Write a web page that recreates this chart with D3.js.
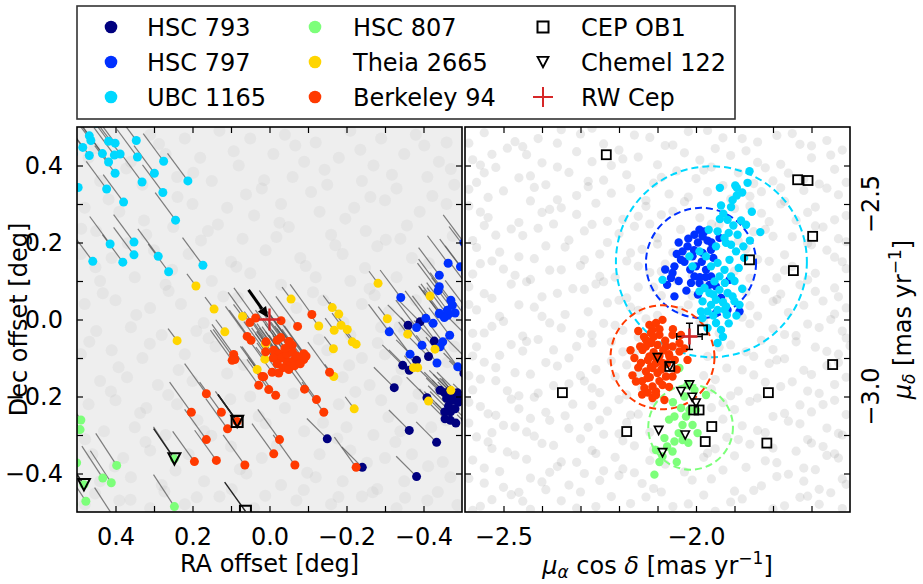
<!DOCTYPE html>
<html>
<head>
<meta charset="utf-8">
<script src="https://cdn.jsdelivr.net/npm/d3@7"></script>
<style>
  body { margin: 0; background: #fff; }
  svg { display: block; font-family: "DejaVu Sans", sans-serif; }
</style>
</head>
<body>
<div id="graph"></div>
<script>
// ---- data ----
const cluster_names = ["HSC 793", "HSC 797", "UBC 1165", "HSC 807", "Theia 2665", "Berkeley 94"];
const cluster_colors = ["#00007f", "#0030ff", "#00d8ff", "#7dff7a", "#ffd500", "#ff3a00"];
// mean proper motion (mas/yr) used for the sky tracks
const cluster_pm = [[-1.96, -1.96], [-1.99, -2.65], [-1.96, -2.65], [-2.01, -3.08], [-0.87, -1.16], [-2.09, -2.90]];

// sky positions [RA offset, Dec offset] in deg
const hsc793_sky = [[-0.360,-0.015],[-0.391,-0.006],[-0.428,-0.056],[-0.413,-0.096],[-0.346,-0.119],[-0.363,-0.132],
  [-0.382,-0.106],[-0.324,-0.177],[-0.443,-0.184],[-0.409,-0.203],[-0.455,-0.190],[-0.468,-0.185],[-0.478,-0.195],
  [-0.488,-0.190],[-0.460,-0.205],[-0.475,-0.210],[-0.490,-0.215],[-0.465,-0.225],[-0.482,-0.232],[-0.495,-0.205],
  [-0.470,-0.240],[-0.455,-0.240],[-0.470,-0.262],[-0.484,-0.269],[-0.456,-0.258],[-0.363,-0.288],[-0.434,-0.319],
  [-0.382,-0.408],[-0.150,-0.310],[-0.241,-0.384],[-0.51,-0.10],[-0.52,-0.16],[-0.53,-0.22],[-0.51,-0.26],
  [-0.54,-0.30],[-0.52,-0.05],[-0.505,-0.14]];
const hsc797_sky = [[-0.311,-0.032],[-0.382,-0.021],[-0.406,0.003],[-0.425,-0.010],[-0.443,0.014],[-0.463,0.011],
  [-0.482,0.017],[-0.468,-0.041],[-0.450,-0.058],[-0.443,-0.071],[-0.396,-0.067],[-0.365,-0.090],[-0.435,-0.113],
  [-0.489,-0.123],[-0.464,0.146],[-0.496,0.137],[-0.441,0.115],[-0.441,0.085],[-0.438,0.075],[-0.341,0.057],
  [-0.471,0.050],[-0.475,0.037],[-0.462,0.024],[-0.441,0.016],[-0.454,0.005],[-0.51,0.12],[-0.52,0.08],
  [-0.51,0.03],[-0.53,-0.02],[-0.52,0.17],[-0.505,0.20]];
const ubc1165_sky = [[0.468,0.477],[0.464,0.465],[0.485,0.447],[0.418,0.463],[0.401,0.458],[0.346,0.465],
  [0.468,0.426],[0.434,0.431],[0.403,0.427],[0.388,0.430],[0.418,0.409],[0.343,0.422],[0.275,0.411],[0.401,0.380],
  [0.299,0.380],[0.331,0.357],[0.212,0.360],[0.497,0.343],[0.423,0.339],[0.277,0.330],[0.379,0.305],[0.244,0.258],
  [0.352,0.201],[0.414,0.196],[0.352,0.168],[0.289,0.164],[0.459,0.151],[0.381,0.149],[0.173,0.141],[0.262,0.124],
  [0.52,0.50],[0.48,0.52],[0.45,0.51],[0.42,0.54],[0.38,0.52],[0.51,0.43],[0.53,0.38],[0.52,0.30]];
const hsc807_sky = [[0.490,-0.261],[0.492,-0.286],[0.397,-0.379],[0.433,-0.412],[0.411,-0.424],[0.501,-0.372],
  [0.477,-0.472],[0.247,-0.486],[0.247,-0.362],[0.482,-0.429],[0.52,-0.33],[0.53,-0.40],[0.51,-0.48],[0.40,-0.52]];
const theia2665_sky = [[0.191,0.087],[0.144,0.027],[0.070,0.008],[0.116,-0.032],[0.009,-0.061],[0.012,-0.103],
  [0.032,-0.130],[-0.056,0.053],[-0.128,-0.017],[-0.163,0.031],[-0.168,-0.028],[-0.166,-0.076],[-0.091,-0.095],
  [-0.186,-0.015],[-0.202,-0.026],[-0.215,-0.058],[-0.225,-0.064],[0.010,-0.063],[-0.167,-0.148],[-0.220,-0.232],
  [-0.306,0.002],[-0.359,-0.038],[-0.430,-0.077],[-0.374,-0.125],[-0.385,-0.125],[-0.471,-0.184],[-0.413,-0.212],
  [-0.180,0.014],[-0.282,0.094],[-0.417,0.061],[0.240,-0.055]];
const berkeley94_sky = [[0.036,0.004],[0.051,-0.008],[-0.030,-0.003],[-0.073,-0.018],[-0.110,0.013],[0.058,-0.044],
  [0.048,-0.054],[-0.020,-0.054],[-0.029,-0.047],[-0.050,-0.057],[-0.059,-0.067],[0.093,-0.091],[0.090,-0.104],
  [0.097,-0.106],[0.010,-0.084],[-0.011,-0.080],[-0.024,-0.089],[-0.037,-0.097],[-0.046,-0.110],[-0.055,-0.119],
  [-0.063,-0.106],[-0.076,-0.102],[-0.089,-0.089],[-0.089,-0.104],[-0.007,-0.137],[0.015,-0.149],[0.028,-0.171],
  [0.002,-0.182],[-0.016,-0.197],[-0.091,-0.181],[-0.122,-0.208],[-0.156,-0.137],[-0.141,-0.241],[-0.026,-0.312],
  [-0.011,-0.349],[-0.066,-0.378],[-0.225,-0.384],[-0.052,-0.058],[0.009,-0.058],[0.019,-0.148],[-0.024,-0.139],
  [-0.030,-0.100],[-0.045,-0.090],[-0.060,-0.085],[-0.070,-0.095],[-0.020,-0.115],[-0.035,-0.125],[-0.050,-0.130],
  [-0.065,-0.120],[-0.080,-0.115],[-0.040,-0.075],[-0.010,-0.100],[-0.095,-0.095],[0.164,-0.193],[0.125,-0.241],
  [0.203,-0.241],[0.109,-0.284],[0.164,-0.312],[0.138,-0.366],[0.195,-0.369],[0.064,-0.378],[0.084,-0.265]];
const sky_members = [hsc793_sky, hsc797_sky, ubc1165_sky, hsc807_sky, theia2665_sky, berkeley94_sky];

// [RA offset, Dec offset, pmRA, pmDec]
const cep_ob1_sky = [[0.084,-0.265,-1.85,-2.60],[0.0625,-0.498,-2.00,-2.80]];
const chemel122_sky = [[0.247,-0.362,-2.00,-2.90],[0.482,-0.429,-2.00,-2.95],[0.084,-0.265,-1.85,-2.60]];
const rwcep_sky = [0.0, 0.0];
const rwcep_pm = [-2.017, -2.844];
const rwcep_pm_err = [0.033, 0.034];

// proper motions [pmRA cos dec, pmDec] in mas/yr
const hsc797_pm = [[-1.991,-2.567],[-1.978,-2.571],[-1.983,-2.584],[-2.004,-2.580],[-1.939,-2.588],[-2.022,-2.610],
  [-2.035,-2.623],[-2.009,-2.636],[-1.983,-2.627],[-1.961,-2.619],[-2.039,-2.645],[-2.000,-2.662],[-2.056,-2.662],
  [-2.061,-2.679],[-2.065,-2.692],[-1.974,-2.671],[-1.961,-2.688],[-2.004,-2.688],[-2.013,-2.705],[-1.991,-2.705],
  [-1.965,-2.710],[-1.913,-2.697],[-1.948,-2.714],[-2.056,-2.740],[-1.935,-2.744],[-1.948,-2.783],[-1.918,-2.775],
  [-1.887,-2.779],[-2.020,-2.590],[-2.045,-2.600],[-1.995,-2.600],[-1.970,-2.595],[-2.030,-2.650],[-2.015,-2.670],
  [-1.985,-2.650],[-2.045,-2.700],[-2.075,-2.710],[-2.025,-2.725],[-1.995,-2.735],[-1.975,-2.690],[-1.955,-2.640],
  [-2.050,-2.630],[-2.080,-2.670],[-1.960,-2.600],[-2.005,-2.620],[-1.990,-2.690]];
const ubc1165_pm = [[-1.861,-2.415],[-1.866,-2.445],[-1.898,-2.452],[-1.894,-2.458],[-1.938,-2.458],[-1.894,-2.478],
  [-1.909,-2.508],[-1.935,-2.504],[-1.929,-2.525],[-1.938,-2.539],[-1.918,-2.541],[-1.883,-2.543],[-1.903,-2.556],
  [-1.870,-2.554],[-1.833,-2.573],[-1.944,-2.571],[-1.926,-2.588],[-1.922,-2.601],[-1.892,-2.580],[-1.877,-2.610],
  [-1.909,-2.606],[-1.896,-2.623],[-1.948,-2.610],[-1.967,-2.567],[-1.991,-2.623],[-2.017,-2.636],[-2.009,-2.662],
  [-1.974,-2.636],[-1.961,-2.662],[-1.944,-2.653],[-1.913,-2.645],[-1.926,-2.671],[-1.939,-2.688],[-1.889,-2.666],
  [-1.909,-2.688],[-1.952,-2.701],[-1.978,-2.718],[-1.991,-2.727],[-1.965,-2.731],[-1.939,-2.723],[-1.918,-2.731],
  [-1.948,-2.749],[-1.961,-2.762],[-1.983,-2.753],[-1.987,-2.779],[-1.970,-2.779],[-1.944,-2.775],[-1.922,-2.766],
  [-1.900,-2.753],[-1.887,-2.762],[-2.087,-2.697],[-1.926,-2.775],[-1.920,-2.788],[-1.944,-2.861],[-1.935,-2.827],
  [-1.948,-2.809],[-1.970,-2.822],[-1.983,-2.796],[-1.880,-2.470],[-1.905,-2.490],[-1.855,-2.520],[-1.915,-2.575],
  [-1.860,-2.595],[-1.875,-2.640],[-1.900,-2.700],[-1.925,-2.705],[-1.880,-2.720],[-1.905,-2.740],[-1.930,-2.755],
  [-1.955,-2.735],[-1.895,-2.790],[-1.915,-2.810],[-1.955,-2.790],[-1.930,-2.845]];
const hsc807_pm = [[-2.043,-2.926],[-2.022,-2.970],[-2.004,-2.983],[-1.974,-2.996],[-2.000,-3.035],[-2.026,-3.052],
  [-2.056,-3.052],[-2.035,-3.074],[-2.009,-3.074],[-1.996,-3.095],[-2.035,-3.113],[-2.056,-3.117],[-2.082,-3.108],
  [-2.104,-3.139],[-2.061,-3.143],[-2.108,-3.203],[-2.087,-3.156],[-2.017,-3.035],[-2.039,-3.030],[-2.070,-3.060],
  [-2.045,-3.095],[-2.020,-3.120],[-2.075,-3.130],[-2.095,-3.170],[-2.050,-3.170],[-2.030,-3.000],[-2.060,-3.015]];
const berkeley94_pm = [[-2.121,-2.814],[-2.104,-2.809],[-2.087,-2.801],[-2.113,-2.827],[-2.095,-2.840],[-2.117,-2.857],
  [-2.100,-2.866],[-2.078,-2.870],[-2.061,-2.870],[-2.043,-2.883],[-2.069,-2.896],[-2.104,-2.900],[-2.087,-2.913],
  [-2.117,-2.922],[-2.100,-2.939],[-2.078,-2.948],[-2.061,-2.948],[-2.087,-2.970],[-2.104,-2.987],[-2.113,-3.004],
  [-2.082,-3.009],[-2.043,-2.861],[-2.039,-2.840],[-2.061,-2.840],[-2.022,-2.905],[-2.130,-2.853],[-2.117,-2.835],
  [-2.139,-2.879],[-2.121,-2.896],[-2.143,-2.913],[-2.130,-2.935],[-2.113,-2.926],[-2.156,-2.961],[-2.134,-2.978],
  [-2.113,-2.974],[-2.104,-2.913],[-2.117,-2.861],[-2.104,-2.996],[-2.126,-2.952],[-2.150,-2.830],[-2.135,-2.845],
  [-2.145,-2.870],[-2.160,-2.900],[-2.150,-2.925],[-2.165,-2.945],[-2.140,-2.960],[-2.125,-2.990],[-2.095,-2.960],
  [-2.090,-2.930],[-2.075,-2.915],[-2.070,-2.890],[-2.085,-2.880],[-2.095,-2.895],[-2.125,-2.905],[-2.110,-2.885],
  [-2.130,-2.870],[-2.095,-2.825],[-2.080,-2.855],[-2.055,-2.905],[-2.050,-2.930],[-2.070,-2.975],[-2.120,-2.950],
  [-2.140,-2.995],[-2.170,-2.880],[-2.110,-2.845],[-2.060,-2.825],[-2.030,-2.875]];
const pm_members = [[], hsc797_pm, ubc1165_pm, hsc807_pm, [], berkeley94_pm];
const cep_ob1_pm = [[-1.983,-2.827],[-2.068,-2.922],[-1.812,-2.990],[-1.992,-3.035],[-2.006,-3.035],[-1.959,-3.078],
  [-1.976,-3.117],[-1.816,-3.121],[-1.645,-2.917],[-2.347,-2.990],[-2.180,-3.091],[-2.233,-2.372],[-1.736,-2.437],
  [-1.709,-2.439],[-1.697,-2.584],[-1.747,-2.673],[-1.861,-2.645]];
const chemel122_pm = [[-2.100,-2.899],[-2.039,-2.987],[-2.017,-2.970],[-2.010,-3.002],[-2.000,-3.017],[-2.097,-3.088],
  [-2.028,-3.100],[-2.087,-3.146],[-2.068,-2.922]];
// selection circles [pmRA, pmDec, radius] for UBC 1165, HSC 797, HSC 807, Berkeley 94
const circle_cluster = [2, 1, 3, 5];
const circle_params = [[-1.960,-2.650,0.248],[-1.987,-2.653,0.143],[-2.014,-3.080,0.110],[-2.087,-2.898,0.135]];

// field stars
const sky_field = [[0.31,0.48],[0.22,0.47],[0.13,0.49],[0.05,0.47],[-0.04,0.48],[-0.12,0.46],[-0.21,0.49],[-0.29,0.47],
  [-0.38,0.48],[-0.46,0.46],[0.47,0.42],[0.36,0.41],[0.27,0.43],[0.18,0.42],[0.08,0.40],[-0.01,0.43],[-0.09,0.41],
  [-0.18,0.42],[-0.27,0.40],[-0.35,0.43],[-0.44,0.41],[0.44,0.36],[0.33,0.35],[0.24,0.37],[0.15,0.36],[0.02,0.34],
  [-0.06,0.37],[-0.15,0.35],[-0.24,0.36],[-0.33,0.34],[-0.41,0.37],[-0.48,0.35],[0.48,0.29],[0.39,0.28],[0.20,0.30],
  [0.11,0.29],[0.04,0.27],[-0.03,0.30],[-0.13,0.28],[-0.22,0.29],[-0.30,0.31],[-0.39,0.28],[-0.46,0.30],[0.45,0.23],
  [0.32,0.22],[0.25,0.24],[0.16,0.23],[0.07,0.21],[-0.05,0.24],[-0.16,0.22],[-0.25,0.23],[-0.34,0.21],[0.49,0.17],
  [0.41,0.16],[0.30,0.18],[0.21,0.17],[0.10,0.15],[0.01,0.18],[-0.08,0.16],[-0.19,0.17],[-0.28,0.19],[-0.37,0.16],
  [0.44,0.10],[0.35,0.11],[0.27,0.09],[0.15,0.10],[0.05,0.12],[-0.03,0.09],[-0.12,0.11],[-0.21,0.10],[-0.26,0.08],
  [-0.33,0.11],[0.48,0.04],[0.40,0.05],[0.31,0.03],[0.23,0.04],[0.12,0.06],[-0.07,0.03],[-0.14,0.05],[-0.24,0.04],
  [-0.31,0.02],[-0.38,0.05],[0.45,-0.03],[0.36,-0.02],[0.28,-0.04],[0.19,-0.03],[0.07,-0.01],[-0.21,-0.04],
  [-0.29,-0.02],[-0.35,-0.03],[0.49,-0.09],[0.41,-0.08],[0.33,-0.10],[0.22,-0.09],[0.14,-0.07],[-0.15,-0.08],
  [-0.24,-0.10],[-0.30,-0.09],[-0.48,-0.07],[0.44,-0.16],[0.37,-0.15],[0.29,-0.17],[0.20,-0.16],[0.11,-0.14],
  [-0.19,-0.15],[-0.26,-0.17],[-0.33,-0.16],[0.47,-0.22],[0.40,-0.21],[0.32,-0.23],[0.24,-0.22],[0.05,-0.20],
  [-0.04,-0.23],[-0.18,-0.22],[-0.29,-0.21],[-0.37,-0.23],[0.43,-0.29],[0.35,-0.28],[0.27,-0.30],[0.17,-0.29],
  [0.01,-0.27],[-0.09,-0.29],[-0.20,-0.28],[-0.27,-0.30],[-0.34,-0.29],[-0.42,-0.28],[0.46,-0.35],[0.38,-0.36],
  [0.31,-0.34],[0.21,-0.35],[0.10,-0.33],[0.02,-0.36],[-0.13,-0.35],[-0.21,-0.34],[-0.30,-0.36],[-0.37,-0.35],
  [-0.45,-0.37],[0.44,-0.42],[0.36,-0.41],[0.28,-0.43],[0.17,-0.42],[0.06,-0.40],[-0.03,-0.43],[-0.12,-0.41],
  [-0.19,-0.42],[-0.28,-0.44],[-0.35,-0.42],[-0.47,-0.41],[0.48,-0.48],[0.39,-0.47],[0.31,-0.49],[0.22,-0.48],
  [0.13,-0.46],[0.04,-0.49],[-0.07,-0.47],[-0.16,-0.48],[-0.24,-0.46],[-0.33,-0.49],[-0.41,-0.47],
  [0.455,0.445],[0.372,0.392],[0.287,0.456],[0.198,0.381],[0.093,0.437],[0.014,0.362],[-0.067,0.452],[-0.143,0.389],
  [-0.236,0.441],[-0.318,0.376],[-0.402,0.452],[-0.471,0.391],[0.418,0.312],[0.326,0.257],[0.239,0.318],[0.134,0.247],
  [0.061,0.325],[-0.026,0.251],[-0.108,0.331],[-0.197,0.262],[-0.262,0.318],[-0.357,0.244],[-0.423,0.321],[0.489,0.236],
  [0.452,0.136],[0.368,0.198],[0.253,0.129],[0.178,0.205],[0.086,0.137],[-0.018,0.214],[-0.094,0.139],[-0.171,0.193],
  [-0.248,0.134],[-0.302,0.207],[-0.414,0.146],[-0.476,0.217],[0.433,0.068],[0.346,0.012],[0.262,0.074],[0.171,-0.009],
  [0.082,0.057],[-0.041,-0.014],[-0.113,0.071],[-0.192,-0.007],[-0.273,0.063],[-0.338,-0.018],[-0.412,0.072],
  [-0.487,0.002],[0.468,-0.058],[0.392,-0.124],[0.311,-0.063],[0.236,-0.131],[0.158,-0.049],[0.067,-0.118],
  [-0.128,-0.052],[-0.207,-0.119],[-0.281,-0.061],[-0.343,-0.129],[-0.402,-0.043],[-0.462,-0.111],[0.412,-0.187],
  [0.336,-0.243],[0.263,-0.196],[0.187,-0.262],[0.102,-0.207],[0.028,-0.251],[-0.062,-0.192],[-0.139,-0.268],
  [-0.223,-0.188],[-0.309,-0.253],[-0.387,-0.193],[-0.458,-0.262],[0.479,-0.311],[0.402,-0.382],[0.322,-0.318],
  [0.244,-0.392],[0.151,-0.302],[0.077,-0.389],[-0.019,-0.327],[-0.098,-0.398],[-0.176,-0.309],[-0.253,-0.372],
  [-0.327,-0.318],[-0.412,-0.381],[0.453,-0.452],[0.361,-0.468],[0.273,-0.447],[0.189,-0.462],[0.098,-0.441],
  [0.011,-0.458],[-0.089,-0.443],[-0.179,-0.461],[-0.268,-0.449],[-0.352,-0.463],[-0.437,-0.448],[-0.488,-0.482]];
const pm_field = [[-2.55,-2.315],[-2.41,-2.330],[-2.30,-2.318],[-2.12,-2.327],[-2.02,-2.312],[-1.88,-2.330],
  [-1.79,-2.322],[-1.66,-2.335],[-2.49,-2.355],[-2.36,-2.342],[-2.20,-2.360],[-2.08,-2.348],[-1.95,-2.356],
  [-1.73,-2.345],[-1.62,-2.360],[-2.58,-2.385],[-2.44,-2.372],[-2.27,-2.390],[-2.15,-2.378],[-1.99,-2.386],
  [-1.91,-2.374],[-1.84,-2.392],[-1.70,-2.380],[-2.52,-2.405],[-2.33,-2.418],[-2.22,-2.400],[-2.05,-2.414],
  [-1.82,-2.406],[-1.76,-2.420],[-1.64,-2.410],[-2.57,-2.444],[-2.46,-2.432],[-2.39,-2.450],[-2.24,-2.438],
  [-2.11,-2.446],[-2.00,-2.434],[-1.93,-2.452],[-1.80,-2.440],[-1.68,-2.448],[-2.50,-2.466],[-2.31,-2.478],
  [-2.17,-2.460],[-2.07,-2.474],[-1.97,-2.468],[-1.86,-2.480],[-1.72,-2.465],[-1.63,-2.476],[-2.59,-2.505],
  [-2.43,-2.492],[-2.35,-2.510],[-2.26,-2.498],[-2.13,-2.506],[-2.03,-2.494],[-1.90,-2.512],[-1.78,-2.500],
  [-1.69,-2.508],[-2.54,-2.535],[-2.40,-2.522],[-2.19,-2.540],[-2.09,-2.528],[-1.99,-2.536],[-1.83,-2.524],
  [-1.74,-2.542],[-1.61,-2.530],[-2.48,-2.565],[-2.37,-2.552],[-2.29,-2.570],[-2.16,-2.558],[-2.04,-2.566],
  [-1.94,-2.554],[-1.85,-2.572],[-1.67,-2.560],[-2.58,-2.595],[-2.45,-2.582],[-2.23,-2.600],[-2.10,-2.588],
  [-1.89,-2.596],[-1.80,-2.584],[-1.71,-2.602],[-1.63,-2.590],[-2.51,-2.625],[-2.34,-2.612],[-2.25,-2.630],
  [-2.14,-2.618],[-2.06,-2.626],[-1.96,-2.614],[-1.77,-2.632],[-1.66,-2.620],[-2.56,-2.655],[-2.42,-2.642],
  [-2.30,-2.660],[-2.18,-2.648],[-2.08,-2.656],[-1.84,-2.644],[-1.75,-2.662],[-1.62,-2.650],[-2.47,-2.685],
  [-2.38,-2.672],[-2.21,-2.690],[-2.12,-2.678],[-2.01,-2.686],[-1.90,-2.674],[-1.79,-2.692],[-1.69,-2.680],
  [-2.59,-2.715],[-2.44,-2.702],[-2.32,-2.720],[-2.26,-2.708],[-2.15,-2.716],[-1.97,-2.704],[-1.82,-2.722],
  [-1.73,-2.710],[-1.64,-2.718],[-2.53,-2.745],[-2.36,-2.732],[-2.20,-2.750],[-2.09,-2.738],[-1.93,-2.746],
  [-1.78,-2.734],[-1.67,-2.752],[-2.57,-2.775],[-2.46,-2.762],[-2.28,-2.780],[-2.17,-2.768],[-2.04,-2.776],
  [-1.86,-2.764],[-1.76,-2.782],[-1.61,-2.770],[-2.50,-2.805],[-2.40,-2.792],[-2.24,-2.810],[-2.13,-2.798],
  [-1.99,-2.806],[-1.88,-2.794],[-1.71,-2.812],[-1.65,-2.800],[-2.55,-2.835],[-2.35,-2.822],[-2.27,-2.840],
  [-2.19,-2.828],[-1.94,-2.836],[-1.80,-2.824],[-1.74,-2.842],[-1.62,-2.830],[-2.48,-2.865],[-2.41,-2.852],
  [-2.31,-2.870],[-2.22,-2.858],[-1.91,-2.866],[-1.83,-2.854],[-1.69,-2.872],[-2.58,-2.895],[-2.45,-2.882],
  [-2.33,-2.900],[-2.16,-2.888],[-1.97,-2.896],[-1.87,-2.884],[-1.77,-2.902],[-1.63,-2.890],[-2.52,-2.925],
  [-2.39,-2.912],[-2.26,-2.930],[-2.18,-2.918],[-1.92,-2.926],[-1.81,-2.914],[-1.72,-2.932],[-1.66,-2.920],
  [-2.56,-2.955],[-2.43,-2.942],[-2.29,-2.960],[-2.21,-2.948],[-1.95,-2.956],[-1.85,-2.944],[-1.75,-2.962],
  [-1.61,-2.950],[-2.49,-2.985],[-2.37,-2.972],[-2.25,-2.990],[-2.14,-2.978],[-1.89,-2.986],[-1.78,-2.974],
  [-1.68,-2.992],[-2.59,-3.015],[-2.42,-3.002],[-2.32,-3.020],[-2.20,-3.008],[-1.93,-3.016],[-1.84,-3.004],
  [-1.73,-3.022],[-1.64,-3.010],[-2.54,-3.045],[-2.46,-3.032],[-2.34,-3.050],[-2.23,-3.038],[-2.15,-3.046],
  [-1.90,-3.034],[-1.80,-3.052],[-1.70,-3.040],[-2.50,-3.075],[-2.38,-3.062],[-2.28,-3.080],[-2.18,-3.068],
  [-1.88,-3.076],[-1.76,-3.064],[-1.66,-3.082],[-2.57,-3.105],[-2.44,-3.092],[-2.30,-3.110],[-2.24,-3.098],
  [-1.92,-3.106],[-1.82,-3.094],[-1.71,-3.112],[-1.62,-3.100],[-2.53,-3.135],[-2.40,-3.122],[-2.27,-3.140],
  [-2.16,-3.128],[-1.95,-3.136],[-1.86,-3.124],[-1.74,-3.142],[-1.67,-3.130],[-2.58,-3.165],[-2.47,-3.152],
  [-2.35,-3.170],[-2.21,-3.158],[-2.12,-3.166],[-1.90,-3.154],[-1.79,-3.172],[-1.63,-3.160],[-2.51,-3.195],
  [-2.36,-3.182],[-2.29,-3.200],[-2.19,-3.188],[-2.03,-3.196],[-1.87,-3.184],[-1.76,-3.202],[-1.69,-3.190],
  [-2.55,-3.225],[-2.43,-3.212],[-2.33,-3.230],[-2.25,-3.218],[-2.14,-3.226],[-1.96,-3.214],[-1.83,-3.232],
  [-1.72,-3.220],[-1.61,-3.228],[-2.48,-3.255],[-2.39,-3.242],[-2.22,-3.260],[-2.09,-3.248],[-1.98,-3.256],
  [-1.85,-3.244],[-1.73,-3.262],[-1.65,-3.250],[-2.56,-3.285],[-2.45,-3.272],[-2.31,-3.290],[-2.17,-3.278],
  [-2.06,-3.286],[-1.91,-3.274],[-1.80,-3.292],[-1.68,-3.280],
  [-2.47,-2.338],[-2.35,-2.307],[-2.24,-2.344],[-2.16,-2.321],[-2.06,-2.347],[-1.97,-2.309],[-1.84,-2.339],
  [-1.75,-2.317],[-1.70,-2.349],[-2.59,-2.342],[-1.93,-2.328],[-2.27,-2.303],[-2.53,-2.371],[-2.40,-2.393],
  [-2.31,-2.364],[-2.10,-2.398],[-2.03,-2.367],[-1.87,-2.362],[-1.78,-2.397],[-1.65,-2.373],[-2.19,-2.383],
  [-2.56,-2.399],[-1.96,-2.404],[-2.45,-2.351],[-2.43,-2.427],[-2.28,-2.441],[-2.18,-2.424],[-2.09,-2.431],
  [-1.89,-2.419],[-1.85,-2.447],[-1.72,-2.436],[-1.61,-2.444],[-2.55,-2.419],[-2.36,-2.404],[-1.98,-2.412],
  [-1.78,-2.458],[-2.54,-2.483],[-2.42,-2.457],[-2.36,-2.489],[-2.22,-2.472],[-2.13,-2.491],[-1.91,-2.487],
  [-1.83,-2.468],[-1.77,-2.493],[-1.66,-2.459],[-2.02,-2.482],[-2.28,-2.455],[-2.59,-2.462],[-2.56,-2.521],
  [-2.46,-2.548],[-2.31,-2.527],[-2.23,-2.545],[-2.06,-2.519],[-1.96,-2.552],[-1.86,-2.505],[-1.81,-2.546],
  [-1.71,-2.522],[-1.64,-2.541],[-2.15,-2.532],[-2.38,-2.514],[-2.52,-2.581],[-2.41,-2.563],[-2.33,-2.594],
  [-2.20,-2.577],[-2.12,-2.552],[-1.98,-2.590],[-1.82,-2.566],[-1.75,-2.585],[-1.69,-2.557],[-1.61,-2.598],
  [-2.55,-2.556],[-2.27,-2.553],[-2.57,-2.613],[-2.46,-2.637],[-2.39,-2.609],[-2.29,-2.645],[-2.17,-2.627],
  [-2.03,-2.641],[-1.87,-2.617],[-1.81,-2.649],[-1.70,-2.606],[-1.64,-2.638],[-2.10,-2.604],[-2.53,-2.648],
  [-2.50,-2.669],[-2.43,-2.696],[-2.35,-2.671],[-2.25,-2.688],[-2.15,-2.662],[-2.05,-2.699],[-1.86,-2.693],
  [-1.77,-2.672],[-1.71,-2.697],[-1.61,-2.668],[-2.58,-2.682],[-2.09,-2.675],[-2.55,-2.733],[-2.48,-2.708],
  [-2.40,-2.741],[-2.29,-2.722],[-2.18,-2.744],[-2.11,-2.716],[-2.01,-2.738],[-1.87,-2.729],[-1.79,-2.748],
  [-1.69,-2.727],[-2.24,-2.702],[-1.63,-2.741],[-2.59,-2.761],[-2.51,-2.792],[-2.42,-2.768],[-2.34,-2.787],
  [-2.23,-2.757],[-2.10,-2.789],[-2.02,-2.762],[-1.84,-2.791],[-1.72,-2.763],[-1.64,-2.786],[-2.15,-2.776],
  [-1.80,-2.753],[-2.53,-2.818],[-2.45,-2.843],[-2.38,-2.809],[-2.30,-2.836],[-2.21,-2.815],[-2.15,-2.846],
  [-1.86,-2.811],[-1.77,-2.839],[-1.68,-2.821],[-1.61,-2.848],[-2.58,-2.836],[-1.98,-2.805],[-2.57,-2.871],
  [-2.51,-2.893],[-2.37,-2.879],[-2.27,-2.861],[-2.19,-2.884],[-1.94,-2.872],[-1.85,-2.896],[-1.74,-2.858],
  [-1.66,-2.883],[-2.44,-2.857],[-1.80,-2.878],[-1.60,-2.868],[-2.55,-2.911],[-2.47,-2.938],[-2.36,-2.921],
  [-2.30,-2.946],[-2.22,-2.908],[-1.98,-2.946],[-1.88,-2.931],[-1.79,-2.905],[-1.70,-2.943],[-1.63,-2.912],
  [-2.15,-2.941],[-2.59,-2.946],[-2.58,-2.983],[-2.52,-2.959],[-2.41,-2.991],[-2.33,-2.967],[-2.18,-2.996],
  [-1.96,-2.981],[-1.91,-2.998],[-1.82,-2.963],[-1.71,-2.986],[-1.64,-2.969],[-2.27,-2.978],[-2.46,-2.998],
  [-2.56,-3.026],[-2.48,-3.007],[-2.39,-3.041],[-2.27,-3.023],[-2.17,-3.048],[-1.96,-3.029],[-1.86,-3.013],
  [-1.77,-3.044],[-1.67,-3.021],[-1.61,-3.047],[-2.52,-3.049],[-2.11,-3.012],[-2.59,-3.069],[-2.53,-3.094],
  [-2.43,-3.057],[-2.33,-3.083],[-2.25,-3.061],[-2.12,-3.093],[-1.93,-3.059],[-1.84,-3.088],[-1.73,-3.071],
  [-1.63,-3.096],[-2.47,-3.079],[-2.20,-3.097],[-2.54,-3.118],[-2.49,-3.144],[-2.37,-3.127],[-2.26,-3.148],
  [-2.19,-3.115],[-2.11,-3.138],[-1.97,-3.147],[-1.89,-3.112],[-1.80,-3.134],[-1.70,-3.121],[-1.64,-3.149],
  [-2.42,-3.103],[-2.55,-3.186],[-2.44,-3.163],[-2.38,-3.197],[-2.31,-3.171],[-2.24,-3.193],[-2.08,-3.176],
  [-1.98,-3.158],[-1.93,-3.191],[-1.82,-3.167],[-1.72,-3.186],[-1.66,-3.153],[-2.16,-3.198],[-2.59,-3.213],
  [-2.50,-3.236],[-2.40,-3.222],[-2.30,-3.248],[-2.20,-3.205],[-2.11,-3.239],[-2.01,-3.217],[-1.90,-3.246],
  [-1.79,-3.208],[-1.68,-3.241],[-1.62,-3.214],[-2.46,-3.249],[-2.53,-3.268],[-2.43,-3.293],[-2.35,-3.271],
  [-2.26,-3.286],[-2.13,-3.261],[-2.02,-3.279],[-1.95,-3.298],[-1.88,-3.266],[-1.77,-3.284],[-1.71,-3.259],
  [-1.62,-3.291],[-2.58,-3.296]];

const ra_tick_labels = [0.4, 0.2, 0.0, -0.2, -0.4];
const dec_tick_labels = [-0.4, -0.2, 0.0, 0.2, 0.4];
const pmra_tick_labels = [-2.5, -2.0];
const pmdec_tick_labels = [-3.0, -2.5];

// ---- layout ----
const W = 923, H = 584;
const fs = 24;
const track_time = 0.027; // deg per (mas/yr) for the sky tracks
const panel_top = 127, panel_size = 385;
const left_x0 = 77, right_x0 = 465;

const x_sky = d3.scaleLinear().domain([0.5, -0.5]).range([left_x0, left_x0 + panel_size]);
const y_sky = d3.scaleLinear().domain([-0.5, 0.5]).range([panel_top + panel_size, panel_top]);
const x_pm = d3.scaleLinear().domain([-2.6, -1.6]).range([right_x0, right_x0 + panel_size]);
const y_pm = d3.scaleLinear().domain([-3.3, -2.3]).range([panel_top + panel_size, panel_top]);
const fmt = d3.format(".1f");

const svg = d3.select('#graph').append('svg').attr('width', W).attr('height', H);
const defs = svg.append('defs');
defs.append('clipPath').attr('id', 'clip_left').append('rect')
  .attr('x', left_x0).attr('y', panel_top).attr('width', panel_size).attr('height', panel_size);
defs.append('clipPath').attr('id', 'clip_right').append('rect')
  .attr('x', right_x0).attr('y', panel_top).attr('width', panel_size).attr('height', panel_size);

function square(g, cx, cy, s, sw) {
  g.append('rect').attr('x', cx - s / 2).attr('y', cy - s / 2).attr('width', s).attr('height', s)
    .attr('fill', 'none').attr('stroke', '#000').attr('stroke-width', sw);
}
function tri_down(g, cx, cy, s, sw) {
  const h = s * 0.95;
  g.append('path').attr('d', `M${cx - s / 2},${cy - h / 2}L${cx + s / 2},${cy - h / 2}L${cx},${cy + h / 2}Z`)
    .attr('fill', 'none').attr('stroke', '#000').attr('stroke-width', sw).attr('stroke-linejoin', 'miter');
}
function plus(g, cx, cy, r, sw, color) {
  g.append('path').attr('d', `M${cx - r},${cy}H${cx + r}M${cx},${cy - r}V${cy + r}`)
    .attr('stroke', color).attr('stroke-width', sw).attr('fill', 'none');
}
function near(list, d) { return list.some(v => Math.abs(v - d) < 1e-9); }

function draw_axes(xs, ys, x0, x_labels, y_labels, labels_left) {
  const g = svg.append('g');
  const xt = xs.ticks(10).filter(d => Math.abs(xs(d) - x0) > 2 && Math.abs(xs(d) - x0 - panel_size) > 2);
  const yt = ys.ticks(10).filter(d => Math.abs(ys(d) - panel_top) > 2 && Math.abs(ys(d) - panel_top - panel_size) > 2);
  const style = a => a.call(s => s.select('.domain').remove())
    .attr('font-size', fs).attr('font-family', '"DejaVu Sans", sans-serif')
    .call(s => s.selectAll('line').attr('stroke-width', 1.2));
  g.append('g').attr('transform', `translate(0,${panel_top + panel_size})`)
    .call(d3.axisBottom(xs).tickValues(xt).tickSize(-6).tickPadding(16)
      .tickFormat(d => near(x_labels, d) ? fmt(d) : '')).call(style);
  g.append('g').attr('transform', `translate(0,${panel_top})`)
    .call(d3.axisTop(xs).tickValues(xt).tickSize(-6).tickFormat('')).call(style);
  g.append('g').attr('transform', `translate(${x0},0)`)
    .call(d3.axisLeft(ys).tickValues(yt).tickSize(-6).tickPadding(14)
      .tickFormat(d => labels_left && near(y_labels, d) ? fmt(d) : '')).call(style);
  g.append('g').attr('transform', `translate(${x0 + panel_size},0)`)
    .call(d3.axisRight(ys).tickValues(yt).tickSize(-6).tickFormat('')).call(style);
  if (!labels_left) {
    y_labels.forEach(v => {
      g.append('text').attr('transform', `translate(${x0 + panel_size + 29},${ys(v)}) rotate(-90)`)
        .attr('text-anchor', 'middle').attr('font-size', fs).text(fmt(v));
    });
  }
  g.append('rect').attr('x', x0).attr('y', panel_top).attr('width', panel_size).attr('height', panel_size)
    .attr('fill', 'none').attr('stroke', '#000').attr('stroke-width', 1.6);
}

// ---- left panel: sky ----
const left = svg.append('g').attr('clip-path', 'url(#clip_left)');
left.append('rect').attr('x', left_x0).attr('y', panel_top).attr('width', panel_size).attr('height', panel_size)
  .attr('fill', '#eeeeee');
left.selectAll('circle.field').data(sky_field).join('circle').attr('class', 'field')
  .attr('cx', d => x_sky(d[0])).attr('cy', d => y_sky(d[1])).attr('r', 6)
  .attr('fill', '#808080').attr('fill-opacity', 0.08);

for (let i = 0; i < sky_members.length; i++) {
  const pm = cluster_pm[i];
  left.append('g').selectAll('line').data(sky_members[i]).join('line')
    .attr('x1', d => x_sky(d[0] - track_time * pm[0])).attr('y1', d => y_sky(d[1] - track_time * pm[1]))
    .attr('x2', d => x_sky(d[0])).attr('y2', d => y_sky(d[1]))
    .attr('stroke', '#555').attr('stroke-opacity', 0.75).attr('stroke-width', 1.2);
}
cep_ob1_sky.concat(chemel122_sky).forEach(d => {
  left.append('line')
    .attr('x1', x_sky(d[0] - track_time * d[2])).attr('y1', y_sky(d[1] - track_time * d[3]))
    .attr('x2', x_sky(d[0])).attr('y2', y_sky(d[1]))
    .attr('stroke', '#222').attr('stroke-width', 1.4);
});
for (let i = 0; i < sky_members.length; i++) {
  left.append('g').selectAll('circle').data(sky_members[i]).join('circle')
    .attr('cx', d => x_sky(d[0])).attr('cy', d => y_sky(d[1])).attr('r', 4.5)
    .attr('fill', cluster_colors[i]);
}
cep_ob1_sky.forEach(d => square(left, x_sky(d[0]), y_sky(d[1]), 11, 2));
chemel122_sky.forEach(d => tri_down(left, x_sky(d[0]), y_sky(d[1]), 12, 2));

// RW Cep and its motion arrow
{
  const xe = x_sky(rwcep_sky[0]), ye = y_sky(rwcep_sky[1]);
  const xs0 = x_sky(rwcep_sky[0] - track_time * rwcep_pm[0]);
  const ys0 = y_sky(rwcep_sky[1] - track_time * rwcep_pm[1]);
  const len = Math.hypot(xe - xs0, ye - ys0), ux = (xe - xs0) / len, uy = (ye - ys0) / len;
  const tipx = xe - 2 * ux, tipy = ye - 2 * uy, hl = 11, hw = 5;
  const bx = tipx - hl * ux, by = tipy - hl * uy;
  left.append('line').attr('x1', xs0).attr('y1', ys0).attr('x2', bx).attr('y2', by)
    .attr('stroke', '#000').attr('stroke-width', 3);
  left.append('path').attr('d', `M${tipx},${tipy}L${bx - hw * uy},${by + hw * ux}L${bx + hw * uy},${by - hw * ux}Z`)
    .attr('fill', '#000');
  plus(left, xe, ye, 11, 2.3, '#d62728');
}

// ---- right panel: proper motions ----
const right = svg.append('g').attr('clip-path', 'url(#clip_right)');
right.selectAll('circle.field').data(pm_field).join('circle').attr('class', 'field')
  .attr('cx', d => x_pm(d[0])).attr('cy', d => y_pm(d[1])).attr('r', 4.6)
  .attr('fill', '#808080').attr('fill-opacity', 0.17);
const px_per_unit = x_pm(1) - x_pm(0);
circle_params.forEach((c, j) => {
  right.append('circle').attr('cx', x_pm(c[0])).attr('cy', y_pm(c[1])).attr('r', c[2] * px_per_unit)
    .attr('fill', 'none').attr('stroke', cluster_colors[circle_cluster[j]]).attr('stroke-width', 2)
    .attr('stroke-dasharray', '7,4');
});
for (let i = 0; i < pm_members.length; i++) {
  right.append('g').selectAll('circle').data(pm_members[i]).join('circle')
    .attr('cx', d => x_pm(d[0])).attr('cy', d => y_pm(d[1])).attr('r', 4.2)
    .attr('fill', cluster_colors[i]);
}
cep_ob1_pm.forEach(d => square(right, x_pm(d[0]), y_pm(d[1]), 9, 1.8));
chemel122_pm.forEach(d => tri_down(right, x_pm(d[0]), y_pm(d[1]), 8.5, 1.6));
{
  const cx = x_pm(rwcep_pm[0]), cy = y_pm(rwcep_pm[1]);
  const ex = rwcep_pm_err[0] * px_per_unit, ey = rwcep_pm_err[1] * px_per_unit;
  right.append('path')
    .attr('d', `M${cx - ex},${cy}H${cx + ex}M${cx},${cy - ey}V${cy + ey}` +
      `M${cx - ex},${cy - 3.5}V${cy + 3.5}M${cx + ex},${cy - 3.5}V${cy + 3.5}` +
      `M${cx - 3.5},${cy - ey}H${cx + 3.5}M${cx - 3.5},${cy + ey}H${cx + 3.5}`)
    .attr('stroke', '#000').attr('stroke-width', 1.5).attr('fill', 'none');
  plus(right, cx, cy, 8, 2.5, '#d62728');
}

draw_axes(x_sky, y_sky, left_x0, ra_tick_labels, dec_tick_labels, true);
draw_axes(x_pm, y_pm, right_x0, pmra_tick_labels, pmdec_tick_labels, false);

// ---- axis titles ----
svg.append('text').attr('x', left_x0 + panel_size / 2).attr('y', 572).attr('text-anchor', 'middle')
  .attr('font-size', fs).text('RA offset [deg]');
svg.append('text').attr('transform', `translate(27,${panel_top + panel_size / 2}) rotate(-90)`)
  .attr('text-anchor', 'middle').attr('font-size', fs).text('Dec offset [deg]');

const xl = svg.append('text').attr('x', right_x0 + panel_size / 2).attr('y', 574)
  .attr('text-anchor', 'middle').attr('font-size', fs);
xl.append('tspan').attr('font-style', 'italic').text('μ');
xl.append('tspan').attr('font-style', 'italic').attr('font-size', 17).attr('dy', 4).text('α');
xl.append('tspan').attr('dy', -4).text(' cos ');
xl.append('tspan').attr('font-style', 'italic').text('δ');
xl.append('tspan').text(' [mas yr');
xl.append('tspan').attr('font-size', 17).attr('dy', -10).text('−1');
xl.append('tspan').attr('dy', 10).text(']');

const yl = svg.append('text').attr('transform', `translate(911,${panel_top + panel_size / 2}) rotate(-90)`)
  .attr('text-anchor', 'middle').attr('font-size', fs);
yl.append('tspan').attr('font-style', 'italic').text('μ');
yl.append('tspan').attr('font-style', 'italic').attr('font-size', 17).attr('dy', 4).text('δ');
yl.append('tspan').attr('dy', -4).text(' [mas yr');
yl.append('tspan').attr('font-size', 17).attr('dy', -10).text('−1');
yl.append('tspan').attr('dy', 10).text(']');

// ---- legend ----
const legend = svg.append('g');
legend.append('rect').attr('x', 77).attr('y', 6).attr('width', 658).attr('height', 113)
  .attr('fill', '#fff').attr('stroke', '#333').attr('stroke-width', 1.6);
const col_marker_x = [111, 315, 543];
const col_text_x = [147, 353, 581];
const row_y = [27, 62, 97];
cluster_names.forEach((name, i) => {
  const c = Math.floor(i / 3), r = i % 3;
  legend.append('circle').attr('cx', col_marker_x[c]).attr('cy', row_y[r]).attr('r', 6.3).attr('fill', cluster_colors[i]);
  legend.append('text').attr('x', col_text_x[c]).attr('y', row_y[r] + 8.7).attr('font-size', fs).text(name);
});
square(legend, col_marker_x[2], row_y[0], 11, 2);
tri_down(legend, col_marker_x[2], row_y[1], 11, 1.8);
plus(legend, col_marker_x[2], row_y[2], 10, 2, '#d62728');
['CEP OB1', 'Chemel 122', 'RW Cep'].forEach((name, r) => {
  legend.append('text').attr('x', col_text_x[2]).attr('y', row_y[r] + 8.7).attr('font-size', fs).text(name);
});
</script>
</body>
</html>
